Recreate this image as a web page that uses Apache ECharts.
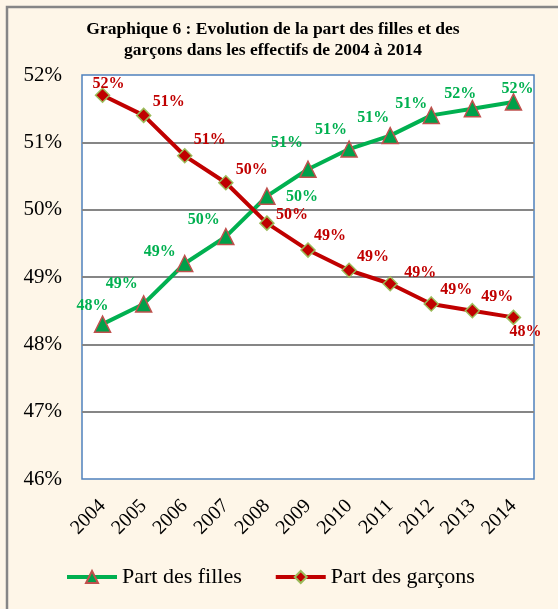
<!DOCTYPE html>
<html>
<head>
<meta charset="utf-8">
<script src="https://cdn.jsdelivr.net/npm/echarts@6/dist/echarts.min.js"></script>
<style>
  html, body { margin: 0; padding: 0; background: #fef6e8; }
  #chart { width: 558px; height: 609px; }
</style>
</head>
<body>
<div id="chart"></div>
<script>
// Données du graphique
const years = ['2004', '2005', '2006', '2007', '2008', '2009', '2010', '2011', '2012', '2013', '2014']
const filles = [48.3, 48.6, 49.2, 49.6, 50.2, 50.6, 50.9, 51.1, 51.4, 51.5, 51.6]
const garcons = [51.7, 51.4, 50.8, 50.4, 49.8, 49.4, 49.1, 48.9, 48.6, 48.5, 48.4]
const yTicks = [46, 47, 48, 49, 50, 51, 52]

// Décalage des étiquettes (placées à la main comme dans Excel)
const fillesLabelOffset = [[-10, -18], [-22, -20], [-25, -12], [-22, -17], [35, 1], [-21, -26], [-18, -19], [-17, -18], [-20, -12], [-12, -15], [4, -13]]
const garconsLabelOffset = [[6, -11], [25, -14], [25, -16], [26, -13], [25, -8], [22, -14], [24, -13], [30, -11], [25, -14], [25, -14], [12, 14]]

const serif = '"Liberation Serif", "Times New Roman", serif'

const chart = echarts.init(document.getElementById('chart'))

const makeData = (values, offsets) => values.map((v, i) => ({
  value: v,
  label: { offset: offsets[i] }
}))

const option = {
  backgroundColor: '#fef6e8',
  graphic: [
    {
      type: 'rect',
      shape: { x: 7, y: 7, width: 600, height: 700 },
      style: { fill: 'none', stroke: '#868686', lineWidth: 2.5 },
      silent: true
    }
  ],
  title: {
    text: 'Graphique 6 : Evolution de la part des filles et des\ngarçons dans les effectifs de 2004 à 2014',
    left: 268,
    textAlign: 'center',
    top: 14,
    textStyle: {
      fontFamily: serif,
      fontSize: 17.5,
      fontWeight: 'bold',
      color: '#000',
      lineHeight: 21
    }
  },
  legend: {
    bottom: 16,
    left: 60,
    itemWidth: 50,
    itemHeight: 15,
    itemGap: 32,
    lineStyle: { width: 4 },
    textStyle: { fontFamily: serif, fontSize: 22, color: '#000' },
    data: ['Part des filles', 'Part des garçons']
  },
  grid: {
    left: 82,
    right: 24,
    top: 75,
    bottom: 130,
    show: true,
    backgroundColor: '#ffffff',
    borderColor: '#4f81bd',
    borderWidth: 1.5,
    z: 0
  },
  xAxis: {
    type: 'category',
    data: years,
    boundaryGap: true,
    axisLine: { show: false },
    axisTick: { show: false },
    axisLabel: {
      rotate: 45,
      margin: 24,
      fontFamily: serif,
      fontSize: 20,
      color: '#000'
    }
  },
  yAxis: {
    type: 'value',
    min: yTicks[0],
    max: yTicks[yTicks.length - 1],
    interval: 1,
    axisLine: { show: false },
    axisTick: { show: false },
    axisLabel: {
      margin: 20,
      fontFamily: serif,
      fontSize: 21,
      color: '#000',
      formatter: v => v + '%'
    },
    splitLine: {
      showMinLine: false,
      showMaxLine: false,
      lineStyle: { color: '#868686', width: 2 }
    }
  },
  series: [
    {
      name: 'Part des filles',
      type: 'line',
      data: makeData(filles, fillesLabelOffset),
      symbol: 'triangle',
      symbolSize: 16,
      lineStyle: { color: '#00b050', width: 4 },
      itemStyle: { color: '#00a04a', borderColor: '#c0504d', borderWidth: 1.5 },
      label: {
        show: true,
        position: 'inside',
        fontFamily: serif,
        fontSize: 16,
        fontWeight: 'bold',
        color: '#00b050',
        formatter: p => Math.round(p.value) + '%'
      },
      z: 3
    },
    {
      name: 'Part des garçons',
      type: 'line',
      data: makeData(garcons, garconsLabelOffset),
      symbol: 'diamond',
      symbolSize: 14,
      lineStyle: { color: '#c00000', width: 4 },
      itemStyle: { color: '#c00000', borderColor: '#9bbb59', borderWidth: 1.5 },
      label: {
        show: true,
        position: 'inside',
        fontFamily: serif,
        fontSize: 16,
        fontWeight: 'bold',
        color: '#c00000',
        formatter: p => Math.round(p.value) + '%'
      },
      z: 4
    }
  ]
}

chart.setOption(option)
</script>
</body>
</html>
